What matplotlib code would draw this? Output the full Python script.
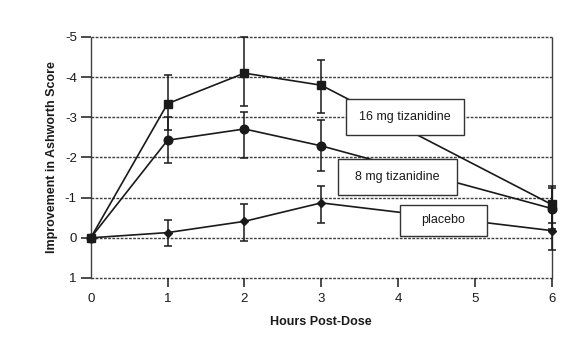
import matplotlib
matplotlib.use("Agg")
import matplotlib.pyplot as plt
from matplotlib.patches import Rectangle

plt.rcParams['font.family'] = ['Liberation Sans', 'DejaVu Sans']
plt.rcParams['axes.unicode_minus'] = False

hours = [0, 1, 2, 3, 6]

mg16 = [0.0, -3.34, -4.10, -3.80, -0.83]
mg16_err_up = [0.0, 0.72, 0.90, 0.62, 0.46]   # toward more negative (upwards on inverted axis)
mg16_err_dn = [0.0, 0.66, 0.82, 0.69, 0.46]

mg8 = [0.0, -2.43, -2.71, -2.29, -0.73]
mg8_err_up = [0.0, 0.59, 0.42, 0.65, 0.50]
mg8_err_dn = [0.0, 0.57, 0.73, 0.63, 0.50]

placebo = [0.0, -0.13, -0.41, -0.87, -0.18]
placebo_err_up = [0.0, 0.31, 0.44, 0.41, 0.52]
placebo_err_dn = [0.0, 0.34, 0.49, 0.50, 0.49]

xticks = [0, 1, 2, 3, 4, 5, 6]
yticks = [-5, -4, -3, -2, -1, 0, 1]
labels = ["16 mg tizanidine", "8 mg tizanidine", "placebo"]

fig = plt.figure(figsize=(5.83, 3.51), dpi=100)
ax = fig.add_axes([0.1556, 0.208, 0.9463 - 0.1556, 0.8946 - 0.208])

ink = '#1a1a1a'
grid_c = '#404040'

# grid / frame
for y in yticks:
    ax.axhline(y, color=grid_c, lw=1.0, ls=(0, (2, 1)), zorder=1, clip_on=False)
for s in ['left', 'right']:
    ax.spines[s].set_linestyle((0, (2, 1)))
    ax.spines[s].set_color(grid_c)
    ax.spines[s].set_linewidth(1.0)
for s in ['top', 'bottom']:
    ax.spines[s].set_visible(False)

common = dict(color=ink, lw=1.2, elinewidth=1.1, capsize=3.2, capthick=1.1, clip_on=False)
ax.errorbar(hours, placebo, yerr=[placebo_err_up, placebo_err_dn], marker='D', ms=4.0, zorder=3, **common)
ax.errorbar(hours, mg8, yerr=[mg8_err_up, mg8_err_dn], marker='o', ms=6.2, zorder=4, **common)
ax.errorbar(hours, mg16, yerr=[mg16_err_up, mg16_err_dn], marker='s', ms=5.8, zorder=5, **common)

ax.set_xlim(0, 6)
ax.set_ylim(1, -5)
ax.set_xticks(xticks)
ax.set_yticks(yticks)
ax.set_xticklabels([str(v) for v in xticks])
ax.set_yticklabels([str(v) for v in yticks])
ax.tick_params(axis='y', direction='out', length=7, width=1.1, color=ink, pad=3,
               labelsize=9.5, labelcolor=ink)
ax.tick_params(axis='x', direction='out', length=6.5, width=1.1, color=ink, pad=4,
               labelsize=9.5, labelcolor=ink)
ax.xaxis.get_major_ticks()[0].tick1line.set_visible(False)

ax.set_xlabel("Hours Post-Dose", fontsize=9, fontweight='bold', color=ink, labelpad=8)
ax.set_ylabel("Improvement in Ashworth Score", fontsize=9, fontweight='bold', color=ink, labelpad=5)

boxes = [
    (0.553, 0.592, 0.257, 0.152),
    (0.537, 0.346, 0.258, 0.148),
    (0.670, 0.174, 0.189, 0.130),
]
for (x0, y0, w, h), lab in zip(boxes, labels):
    ax.add_patch(Rectangle((x0, y0), w, h, transform=ax.transAxes, facecolor='white',
                           edgecolor='#333333', lw=1.0, zorder=6))
    ax.text(x0 + w / 2, y0 + h / 2, lab, transform=ax.transAxes, ha='center', va='center',
            fontsize=9, color=ink, zorder=7)

fig.savefig("out.png", dpi=100, facecolor='white')
